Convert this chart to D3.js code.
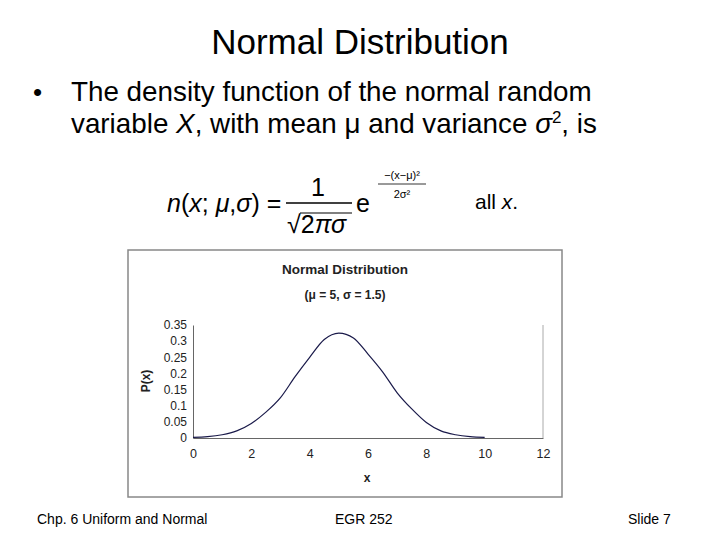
<!DOCTYPE html>
<html><head><meta charset="utf-8">
<script src="https://cdn.jsdelivr.net/npm/d3@7"></script>
<style>body{margin:0;background:#fff}text{font-family:"Liberation Sans",Arial,sans-serif}</style>
</head><body><svg id="s" width="720" height="540"></svg>
<script>
const xVals=[0,0.5,1,1.5,2,2.5,3,3.5,4,4.5,5,5.5,6,6.5,7,7.5,8,8.5,9,9.5,10];
const pVals=[0.002,0.004,0.01,0.022,0.045,0.08,0.125,0.19,0.25,0.305,0.325,0.31,0.26,0.205,0.14,0.09,0.048,0.022,0.01,0.004,0.002];
const xTicks=[0,2,4,6,8,10,12];
const yTicks=[0,0.05,0.1,0.15,0.2,0.25,0.3,0.35];
const svg=d3.select("#s");
svg.append("text").attr("x",360).attr("y",54).attr("text-anchor","middle").attr("font-size",35).text("Normal Distribution");
svg.append("text").attr("x",33).attr("y",101).attr("font-size",26).text("•");
svg.append("text").attr("x",71).attr("y",101).attr("font-size",27.8).text("The density function of the normal random");
const l2=svg.append("text").attr("x",71).attr("y",133).attr("font-size",27.8);
l2.append("tspan").text("variable ");l2.append("tspan").attr("font-style","italic").text("X");
l2.append("tspan").text(", with mean μ and variance ");l2.append("tspan").attr("font-style","italic").text("σ");
l2.append("tspan").attr("font-size",17).attr("dy",-10).text("2");l2.append("tspan").attr("dy",10).text(", is");
// formula
const f=svg.append("g").attr("font-size",25);
const t1=f.append("text").attr("x",167).attr("y",212);
t1.append("tspan").attr("font-style","italic").text("n");t1.append("tspan").text("(");
t1.append("tspan").attr("font-style","italic").text("x");t1.append("tspan").text("; ");
t1.append("tspan").attr("font-style","italic").text("μ");t1.append("tspan").text(",");
t1.append("tspan").attr("font-style","italic").text("σ");t1.append("tspan").text(") =");
f.append("text").attr("x",318).attr("y",196).attr("text-anchor","middle").text("1");
f.append("line").attr("x1",286).attr("x2",352).attr("y1",203).attr("y2",203).attr("stroke","#000").attr("stroke-width",1.3);
const t2=f.append("text").attr("x",287).attr("y",233);
t2.append("tspan").text("√2");t2.append("tspan").attr("font-style","italic").text("πσ");
f.append("line").attr("x1",300).attr("x2",352).attr("y1",213).attr("y2",213).attr("stroke","#000").attr("stroke-width",1.2);
f.append("text").attr("x",356).attr("y",212).text("e");
f.append("text").attr("x",402).attr("y",179).attr("font-size",11).attr("text-anchor","middle").text("−(x−μ)²");
f.append("line").attr("x1",378).attr("x2",426).attr("y1",184).attr("y2",184).attr("stroke","#000").attr("stroke-width",0.8);
f.append("text").attr("x",402).attr("y",198).attr("font-size",11).attr("text-anchor","middle").text("2σ²");
const t3=f.append("text").attr("x",475).attr("y",209).attr("font-size",21);
t3.append("tspan").text("all ");t3.append("tspan").attr("font-style","italic").text("x");t3.append("tspan").text(".");
// chart box
svg.append("rect").attr("x",128).attr("y",250).attr("width",434).attr("height",247).attr("fill","#fff").attr("stroke","#888").attr("stroke-width",1.5);
const x=d3.scaleLinear().domain([0,12]).range([193,543]);
const y=d3.scaleLinear().domain([0,0.35]).range([438,325]);
svg.append("line").attr("x1",543).attr("x2",543).attr("y1",325).attr("y2",438).attr("stroke","#aaa");
svg.append("text").attr("x",345).attr("y",274).attr("text-anchor","middle").attr("font-size",13.5).attr("font-weight","bold").attr("fill","#222").text("Normal Distribution");
svg.append("text").attr("x",345).attr("y",299).attr("text-anchor","middle").attr("font-size",12).attr("font-weight","bold").attr("fill","#222").text("(μ = 5, σ = 1.5)");
const gx=svg.append("g").attr("transform","translate(0,438)").call(d3.axisBottom(x).tickValues(xTicks).tickSize(0).tickPadding(11).tickFormat(d3.format("d")));
gx.selectAll("text").attr("font-size",12.5).attr("fill","#222");
gx.select(".domain").attr("stroke","#666");
const gy=svg.append("g").attr("transform","translate(193,0)").call(d3.axisLeft(y).tickValues(yTicks).tickSize(0).tickPadding(6).tickFormat(d=>d===0?"0":String(d)));
gy.selectAll("text").attr("font-size",12).attr("fill","#222");
gy.select(".domain").attr("stroke","#666");
svg.append("text").attr("transform","translate(150,381) rotate(-90)").attr("text-anchor","middle").attr("font-size",12).attr("font-weight","bold").attr("fill","#222").text("P(x)");
svg.append("text").attr("x",367).attr("y",482).attr("text-anchor","middle").attr("font-size",12).attr("font-weight","bold").attr("fill","#222").text("x");
svg.append("path").datum(d3.zip(xVals,pVals)).attr("fill","none").attr("stroke","#1a1a4a").attr("stroke-width",1.2)
 .attr("d",d3.line().x(d=>x(d[0])).y(d=>y(d[1])).curve(d3.curveMonotoneX));
svg.append("text").attr("x",37).attr("y",524).attr("font-size",14).text("Chp. 6 Uniform and Normal");
svg.append("text").attr("x",335).attr("y",524).attr("font-size",14).text("EGR 252");
svg.append("text").attr("x",628).attr("y",524).attr("font-size",14).text("Slide  7");
</script></body></html>
